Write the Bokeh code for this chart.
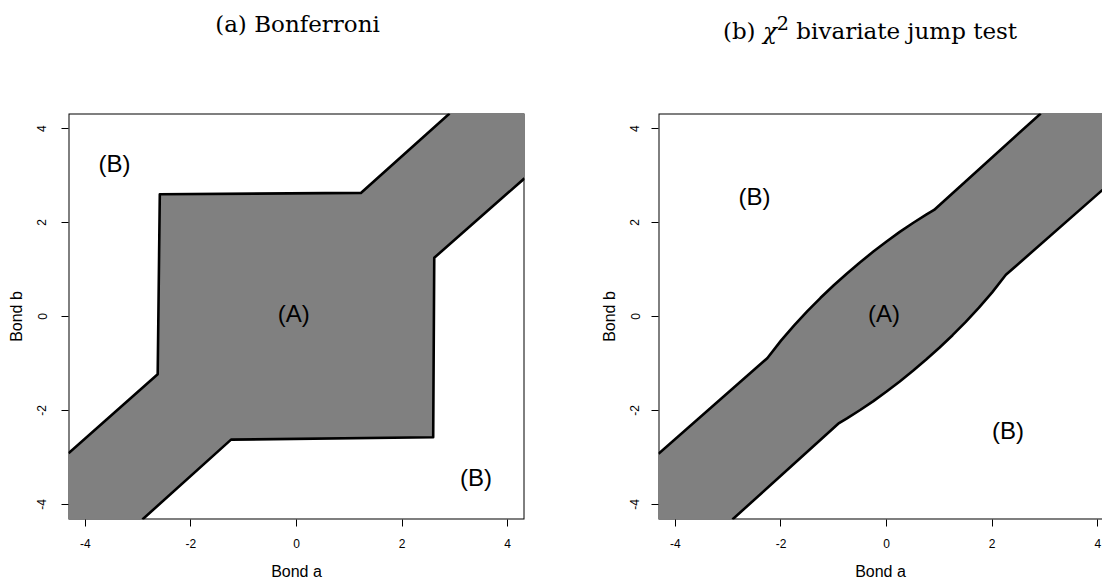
from bokeh.plotting import figure
from bokeh.models import FixedTicker, Range1d, Div, ColumnDataSource
from bokeh.layouts import row, column
from bokeh.embed import file_html
from bokeh.resources import INLINE
from bokeh.core.properties import value

# ---------------- data ----------------
LIM = 4.32
TICKS = [-4, -2, 0, 2, 4]
TICK_LABELS = ["-4", "-2", "0", "2", "4"]
TITLES = ["(a) Bonferroni", "(b) <i>\u03c7</i><sup>2</sup> bivariate jump test"]
X_LABEL = "Bond a"
Y_LABEL = "Bond b"

# (a) Bonferroni: boundary of region (A)
bonf_upper_a = [-4.32, -2.63, -2.59, 1.22, 2.90]
bonf_upper_b = [-2.91, -1.23, 2.60, 2.63, 4.32]
bonf_lower_a = [-2.92, -1.24, 2.59, 2.61, 4.32]
bonf_lower_b = [-4.32, -2.62, -2.57, 1.25, 2.94]
bonf_label_text = ["(B)", "(A)", "(B)"]
bonf_label_a = [-3.45, -0.05, 3.40]
bonf_label_b = [3.20, 0.0, -3.50]

# (b) chi-square bivariate jump test: boundary of region (A)
chi_upper_a = [-4.32, -2.26, -2.00, -1.75, -1.50, -1.25, -1.00, -0.75, -0.50,
               -0.25, 0.00, 0.25, 0.50, 0.75, 0.90, 2.92]
chi_upper_b = [-2.92, -0.887, -0.514, -0.187, 0.115, 0.398, 0.665, 0.917, 1.156,
               1.382, 1.597, 1.800, 1.990, 2.167, 2.268, 4.32]
chi_lower_a = [-2.92, -0.90, -0.75, -0.50, -0.25, 0.00, 0.25, 0.50, 0.75,
               1.00, 1.25, 1.50, 1.75, 2.00, 2.26, 4.32]
chi_lower_b = [-4.32, -2.268, -2.167, -1.990, -1.800, -1.597, -1.382, -1.156, -0.917,
               -0.665, -0.398, -0.115, 0.187, 0.514, 0.887, 2.92]
chi_label_text = ["(B)", "(A)", "(B)"]
chi_label_a = [-2.50, -0.05, 2.30]
chi_label_b = [2.50, 0.0, -2.50]

GRAY = "#808080"
SANS = "Liberation Sans"


def make_panel(up_a, up_b, lo_a, lo_b, lab_t, lab_a, lab_b,
               x_end, b_left, f_width, b_right, box_right, y_label_standoff):
    p = figure(frame_width=f_width, frame_height=406,
               x_range=Range1d(-LIM, x_end), y_range=Range1d(-LIM, LIM),
               output_backend="svg", toolbar_location=None,
               min_border_left=b_left, min_border_right=b_right,
               min_border_top=65, min_border_bottom=0,
               background_fill_color="white", border_fill_color="white",
               outline_line_color=None)
    p.grid.visible = False

    # frame box (drawn first so the shaded region covers it)
    p.quad(left=[-LIM], right=[box_right], bottom=[-LIM], top=[LIM],
           fill_color=None, line_color="black", line_width=2)

    # shaded region (A)
    xs = up_a + [LIM] + lo_a[::-1] + [-LIM]
    ys = up_b + [LIM] + lo_b[::-1] + [-LIM]
    p.patch(xs, ys, fill_color=GRAY, line_color=None)

    # boundaries
    p.line(up_a, up_b, line_color="black", line_width=2.6, line_join="round")
    p.line(lo_a, lo_b, line_color="black", line_width=2.6, line_join="round")

    # region labels
    src = ColumnDataSource(dict(x=lab_a, y=lab_b, t=lab_t))
    p.text(x="x", y="y", text="t", source=src, text_align="center",
           text_baseline="middle", y_offset=-3, text_font=value(SANS),
           text_font_size="24px", text_color="black")

    overrides = {t: s for t, s in zip(TICKS, TICK_LABELS)}
    for ax in (p.xaxis[0], p.yaxis[0]):
        ax.ticker = FixedTicker(ticks=TICKS)
        ax.major_label_overrides = overrides
        ax.axis_line_color = None
        ax.major_tick_out = 7
        ax.major_tick_in = 0
        ax.major_tick_line_color = "black"
        ax.minor_tick_line_color = None
        ax.major_label_text_font = SANS
        ax.major_label_text_font_size = "12px"
        ax.major_label_text_color = "black"
        ax.axis_label_text_font = SANS
        ax.axis_label_text_font_size = "16px"
        ax.axis_label_text_font_style = "normal"
        ax.axis_label_text_color = "black"
    p.xaxis[0].axis_label = X_LABEL
    p.xaxis[0].major_label_standoff = 12
    p.xaxis[0].axis_label_standoff = 12
    p.yaxis[0].axis_label = Y_LABEL
    p.yaxis[0].major_label_standoff = y_label_standoff
    p.yaxis[0].axis_label_standoff = 10
    p.yaxis[0].major_label_orientation = "vertical"
    return p


def make_title(html, width, ml, mr):
    inner = width - ml - mr
    return Div(text=("<div style=\"display:block;font-family:'DejaVu Serif';font-size:23px;"
                     "line-height:48px;text-align:center;color:black;white-space:nowrap;"
                     f"width:{inner}px;margin-left:{ml}px;margin-right:{mr}px;\">{html}</div>"),
               width=width, height=48, margin=(0, 0, 0, 0))


pa = make_panel(bonf_upper_a, bonf_upper_b, bonf_lower_a, bonf_lower_b,
                bonf_label_text, bonf_label_a, bonf_label_b,
                x_end=LIM, b_left=68, f_width=456, b_right=68, box_right=LIM,
                y_label_standoff=15)
pb = make_panel(chi_upper_a, chi_upper_b, chi_lower_a, chi_lower_b,
                chi_label_text, chi_label_a, chi_label_b,
                x_end=4.09, b_left=66, f_width=444, b_right=0, box_right=LIM,
                y_label_standoff=12)

ta = make_title(TITLES[0], 592, 3, 0)
tb = make_title(TITLES[1], 510, 46, 0)

layout = row(column(ta, pa), column(tb, pb))

open("out.html", "w").write(file_html(layout, INLINE))
